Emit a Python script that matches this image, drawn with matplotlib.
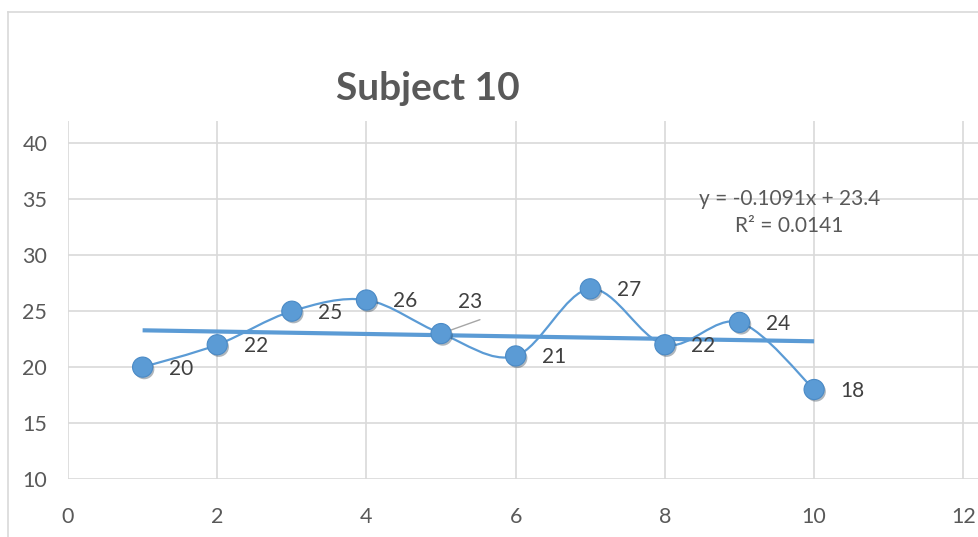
import numpy as np
import matplotlib
matplotlib.use("Agg")
import matplotlib.pyplot as plt
from matplotlib.path import Path
from matplotlib.patches import PathPatch
from matplotlib.lines import Line2D
import matplotlib.patheffects as pe

plt.rcParams["font.family"] = ["Lato", "DejaVu Sans"]

# Session scores for subject 10
sessions = [1, 2, 3, 4, 5, 6, 7, 8, 9, 10]
scores = [20, 22, 25, 26, 23, 21, 27, 22, 24, 18]
title = "Subject 10"
x_ticks = [0, 2, 4, 6, 8, 10, 12]
y_ticks = [10, 15, 20, 25, 30, 35, 40]

BLUE = "#5B9BD5"
GRID = "#D9D9D9"
TXT = "#595959"
LBL = "#404040"


def smooth_path(xs, ys):
    """Catmull-Rom style cubic Bezier through the points (spreadsheet smoothing)."""
    pts = np.column_stack([xs, ys]).astype(float)
    n = len(pts)
    verts = [pts[0]]
    codes = [Path.MOVETO]
    for i in range(n - 1):
        p0 = pts[i - 1] if i > 0 else pts[i]
        p1 = pts[i]
        p2 = pts[i + 1]
        p3 = pts[i + 2] if i + 2 < n else pts[i + 1]
        c1 = p1 + (p2 - p0) / 6.0
        c2 = p2 - (p3 - p1) / 6.0
        verts += [c1, c2, p2]
        codes += [Path.CURVE4] * 3
    return Path(verts, codes)


fig = plt.figure(figsize=(9.79, 5.37), dpi=100)
ax = fig.add_axes([68 / 979, 58 / 537, 1 - 68 / 979, 358 / 537])

# outer chart border (only top/left edges fall inside the image)
fig.add_artist(Line2D([8 / 979, 1.0], [1 - 12 / 537] * 2, color=GRID, lw=1.2))
fig.add_artist(Line2D([8 / 979] * 2, [0.0, 1 - 12 / 537], color=GRID, lw=1.2))

ax.set_xlim(0, 12.21)
ax.set_ylim(10, 42)
ax.set_xticks(x_ticks)
ax.set_yticks(y_ticks)
ax.tick_params(length=0, labelsize=15.5, colors=TXT)
ax.tick_params(axis="x", pad=20)
ax.tick_params(axis="y", pad=15)
for s in ax.spines.values():
    s.set_visible(False)
ax.grid(True, color=GRID, lw=1.2)
ax.set_axisbelow(True)

# smoothed series line
ax.add_patch(PathPatch(smooth_path(sessions, scores), facecolor="none",
                       edgecolor=BLUE, lw=1.6, zorder=3))

# linear trendline
slope, intercept = np.polyfit(sessions, scores, 1)
r2 = np.corrcoef(sessions, scores)[0, 1] ** 2
xt = np.array([sessions[0], sessions[-1]])
ax.plot(xt, slope * xt + intercept, color=BLUE, lw=3.0, zorder=2,
        solid_capstyle="butt")

ax.scatter(sessions, scores, s=210, color=BLUE, edgecolor="#4A8AC6",
           linewidth=0.8, zorder=4,
           path_effects=[pe.withSimplePatchShadow(offset=(1.2, -1.5),
                                                  alpha=0.35)])

# data labels
for xv, yv in zip(sessions, scores):
    if xv == 5:
        ax.annotate("", xy=(xv, yv), xytext=(28, 10),
                    textcoords="offset points",
                    arrowprops=dict(arrowstyle="-", color="#A6A6A6", lw=1.0,
                                    shrinkA=0, shrinkB=2))
        ax.annotate(str(yv), (xv, yv), xytext=(21, 23),
                    textcoords="offset points", fontsize=15, color=LBL,
                    ha="center", va="center")
    else:
        ax.annotate(str(yv), (xv, yv), xytext=(19, -1),
                    textcoords="offset points", fontsize=15, color=LBL,
                    ha="left", va="center")

ax.text(9.67, 35.0, f"y = {slope:.4f}x + {intercept:.1f}", fontsize=15,
        color=TXT, ha="center", va="center")
ax.text(9.67, 32.6, f"R² = {r2:.4f}", fontsize=15, color=TXT,
        ha="center", va="center")

fig.text(428 / 979, 1 - 88 / 537, title, fontsize=28, fontweight="bold",
         color=TXT, ha="center", va="center")

fig.savefig("out.png", dpi=100)
